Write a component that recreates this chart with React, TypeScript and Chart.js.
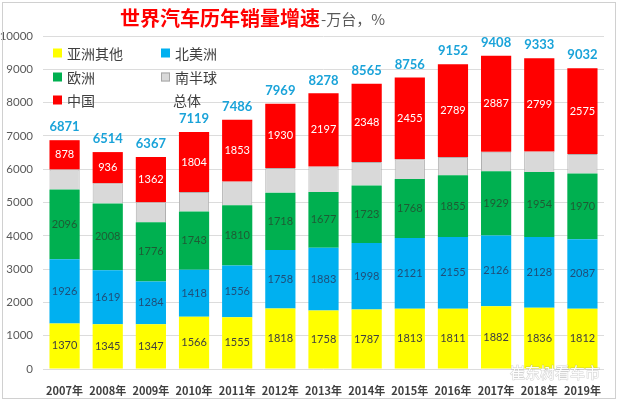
import React, { useEffect, useRef } from "react";
import { Chart, registerables } from "chart.js";

Chart.register(...registerables);

const categories = ["2007年", "2008年", "2009年", "2010年", "2011年", "2012年", "2013年", "2014年", "2015年", "2016年", "2017年", "2018年", "2019年"];
const asiaOther = [1370, 1345, 1347, 1566, 1555, 1818, 1758, 1787, 1813, 1811, 1882, 1836, 1812];
const northAmerica = [1926, 1619, 1284, 1418, 1556, 1758, 1883, 1998, 2121, 2155, 2126, 2128, 2087];
const europe = [2096, 2008, 1776, 1743, 1810, 1718, 1677, 1723, 1768, 1855, 1929, 1954, 1970];
const southHemisphere = [601, 606, 598, 588, 712, 745, 763, 709, 599, 542, 584, 616, 588];
const china = [878, 936, 1362, 1804, 1853, 1930, 2197, 2348, 2455, 2789, 2887, 2799, 2575];
const totals = [6871, 6514, 6367, 7119, 7486, 7969, 8278, 8565, 8756, 9152, 9408, 9333, 9032];
const yTicks = [0, 1000, 2000, 3000, 4000, 5000, 6000, 7000, 8000, 9000, 10000];

const seriesNames = ["亚洲其他", "北美洲", "欧洲", "南半球", "中国"];
const totalName = "总体";
const titleMain = "世界汽车历年销量增速";
const titleSub = "-万台，%";
const watermark = "崔东树看车市";

const NUM_FONT = "Lato, 'Noto Sans CJK SC', sans-serif";
const CJK_FONT = "'Noto Sans CJK SC', sans-serif";

const fills = ["#FFFF00", "#00B0F0", "#00B050", "#D9D9D9", "#FF0000"];
const labelColors = ["#404040", "#1F4E79", "#1E5B34", null, "#FFFFFF"];

const overlayPlugin = {
  id: "overlay",
  afterDatasetsDraw(chart: any) {
    const ctx = chart.ctx;
    ctx.save();
    ctx.textAlign = "center";
    ctx.textBaseline = "middle";
    chart.data.datasets.forEach((ds: any, di: number) => {
      const col = labelColors[di];
      if (!col) return;
      const meta = chart.getDatasetMeta(di);
      ctx.fillStyle = col;
      ctx.font = `11px ${NUM_FONT}`;
      meta.data.forEach((el: any, i: number) => {
        const y = (el.y + el.base) / 2;
        ctx.fillText(String(ds.data[i]), el.x, y);
      });
    });
    const yScale = chart.scales.y;
    const meta0 = chart.getDatasetMeta(0);
    ctx.fillStyle = "#1AA3D9";
    ctx.font = `bold 13px ${NUM_FONT}`;
    totals.forEach((t, i) => {
      const el = meta0.data[i];
      ctx.fillText(String(t), el.x, yScale.getPixelForValue(t) - 13);
    });
    ctx.restore();
  },
  afterDraw(chart: any) {
    const ctx = chart.ctx;
    ctx.save();
    // frame
    ctx.strokeStyle = "#D0D0D0";
    ctx.lineWidth = 1;
    ctx.strokeRect(2.5, 2.5, 613, 396);
    // title
    ctx.textBaseline = "middle";
    ctx.textAlign = "left";
    ctx.fillStyle = "#FF0000";
    ctx.font = `bold 20px ${CJK_FONT}`;
    ctx.fillText(titleMain, 120, 18);
    const w = ctx.measureText(titleMain).width;
    ctx.fillStyle = "#595959";
    ctx.font = `15px ${CJK_FONT}`;
    ctx.fillText(titleSub, 120 + w + 1, 19);
    // legend
    const pos = [
      [53, 53],
      [161, 53],
      [53, 77],
      [161, 77],
      [53, 100],
    ];
    ctx.font = `14px ${CJK_FONT}`;
    chart.data.datasets.forEach((ds: any, i: number) => {
      const [x, y] = pos[i];
      ctx.fillStyle = ds.backgroundColor;
      ctx.fillRect(x, y - 4.5, 9, 9);
      if (i === 3) {
        ctx.strokeStyle = "#A6A6A6";
        ctx.strokeRect(x + 0.5, y - 4, 8, 8);
      }
      ctx.fillStyle = "#404040";
      ctx.fillText(ds.label, x + 14, y + 1);
    });
    ctx.fillStyle = "#404040";
    ctx.fillText(totalName, 173, 101);
    // watermark
    ctx.font = `15px ${CJK_FONT}`;
    ctx.strokeStyle = "rgba(150,150,150,0.45)";
    ctx.lineWidth = 1;
    ctx.fillStyle = "rgba(255,255,255,0.95)";
    ctx.strokeText(watermark, 510, 372);
    ctx.fillText(watermark, 510, 372);
    ctx.restore();
  },
};

export default function App() {
  const ref = useRef<HTMLCanvasElement | null>(null);
  useEffect(() => {
    if (!ref.current) return;
    const series = [asiaOther, northAmerica, europe, southHemisphere, china];
    const chart = new Chart(ref.current, {
      type: "bar",
      data: {
        labels: categories,
        datasets: series.map((d, i) => ({
          label: seriesNames[i],
          data: d,
          backgroundColor: fills[i],
          borderColor: i === 3 ? "#B0B0B0" : fills[i],
          borderWidth: i === 3 ? 1 : 0,
          barPercentage: 0.7,
          categoryPercentage: 1,
        })),
      },
      options: {
        animation: false,
        responsive: false,
        devicePixelRatio: 1,
        layout: { padding: { top: 36, right: 15, left: 0, bottom: 0 } },
        plugins: { legend: { display: false }, tooltip: { enabled: false }, title: { display: false } },
        scales: {
          x: {
            stacked: true,
            grid: { display: false },
            border: { display: false },
            ticks: { color: "#404040", font: { family: CJK_FONT, size: 11, weight: "bold" }, padding: 7, maxRotation: 0 },
            afterFit: (s: any) => { s.height = 32; },
          },
          y: {
            stacked: true,
            min: 0,
            max: 10000,
            afterBuildTicks: (s: any) => { s.ticks = yTicks.map((v) => ({ value: v })); },
            grid: { color: "#DCDCDC", drawTicks: false },
            border: { display: false },
            ticks: {
              color: "#595959",
              font: { family: NUM_FONT, size: 11.5 },
              padding: 10,
              callback: (v: any) => String(v),
            },
            afterFit: (s: any) => { s.width = 43; },
          },
        },
      },
      plugins: [overlayPlugin],
    } as any);
    return () => chart.destroy();
  }, []);
  return (
    <div style={{ position: "absolute", left: 0, top: 0, width: 619, height: 401, background: "#fff" }}>
      <canvas ref={ref} width={619} height={401} style={{ display: "block" }} />
    </div>
  );
}
